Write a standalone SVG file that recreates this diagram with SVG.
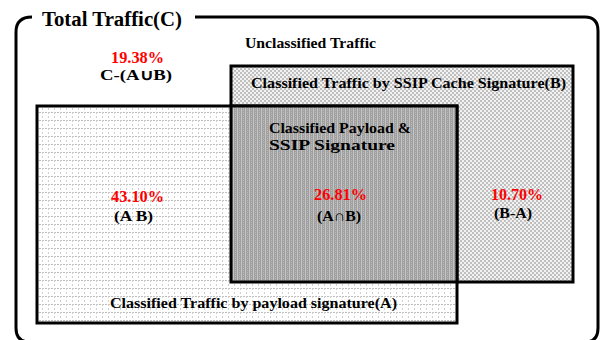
<svg xmlns="http://www.w3.org/2000/svg" width="601" height="340" viewBox="0 0 601 340">
  <defs>
    <style>
      text { font-family: "Liberation Serif", "Times New Roman", serif; font-weight: bold; fill: #000; }
      .title { font-size: 20px; }
      .lbl { font-size: 14px; }
      .sm { font-size: 15px; }
      .pct { font-size: 16px; fill: #ff0000; }
      .box { stroke: #000; stroke-width: 3; }
    </style>
    <!-- light checker for set B -->
    <pattern id="patB" width="4" height="4" patternUnits="userSpaceOnUse">
      <rect width="4" height="4" fill="#f2f2f2"/>
      <rect x="0" y="0" width="2" height="2" fill="#c0c0c0"/>
      <rect x="2" y="2" width="2" height="2" fill="#c0c0c0"/>
    </pattern>
    <!-- dashed grid for set A -->
    <pattern id="patA" width="6" height="8" patternUnits="userSpaceOnUse">
      <rect width="6" height="8" fill="#ffffff"/>
      <line x1="0" y1="0.5" x2="6" y2="0.5" stroke="#bdbdbd" stroke-width="1" stroke-dasharray="2 1"/>
      <line x1="0.5" y1="0" x2="0.5" y2="8" stroke="#cfcfcf" stroke-width="1" stroke-dasharray="2 2"/>
    </pattern>
    <!-- darker vertical stripes for the overlap -->
    <pattern id="patAB" width="4" height="2" patternUnits="userSpaceOnUse">
      <rect width="4" height="2" fill="#a0a0a0"/>
      <rect x="1" y="0" width="1" height="2" fill="#c4c4c4"/>
      <rect x="3" y="0" width="1" height="1" fill="#bbbbbb"/>
    </pattern>
  </defs>

  <rect width="601" height="340" fill="#ffffff"/>

  <!-- Total traffic C: rounded frame with a gap for its title -->
  <g id="setC">
    <path d="M 195 17 H 585 Q 598 17 598 31 V 328 Q 598 342 585 342 H 30 Q 16 342 16 328 V 32 Q 16 17 32 17" fill="none" stroke="#000" stroke-width="3"/>
    <text class="title" x="42" y="26" textLength="140" lengthAdjust="spacingAndGlyphs">Total Traffic(C)</text>
    <text class="lbl" x="245" y="48" textLength="131" lengthAdjust="spacingAndGlyphs">Unclassified Traffic</text>
    <text class="pct" x="111" y="63" textLength="53" lengthAdjust="spacingAndGlyphs">19.38%</text>
    <text class="sm" x="100" y="80" textLength="72" lengthAdjust="spacingAndGlyphs">C-(A∪B)</text>
  </g>

  <!-- Set B -->
  <g id="setB">
    <rect class="box" x="231" y="66" width="342" height="216" fill="url(#patB)"/>
    <text class="lbl" x="251" y="88" textLength="315" lengthAdjust="spacingAndGlyphs">Classified Traffic by SSIP Cache Signature(B)</text>
    <text class="pct" x="491" y="200" textLength="52" lengthAdjust="spacingAndGlyphs">10.70%</text>
    <text class="sm" x="494" y="218" textLength="38" lengthAdjust="spacingAndGlyphs">(B-A)</text>
  </g>

  <!-- Set A -->
  <g id="setA">
    <rect class="box" x="37" y="106" width="420" height="217" fill="url(#patA)"/>
    <text class="pct" x="111" y="202" textLength="53" lengthAdjust="spacingAndGlyphs">43.10%</text>
    <text class="sm" x="114" y="221" textLength="39" lengthAdjust="spacingAndGlyphs">(A B)</text>
    <text class="lbl" x="110" y="308" textLength="287" lengthAdjust="spacingAndGlyphs">Classified Traffic by payload signature(A)</text>
  </g>

  <!-- Overlap A∩B -->
  <g id="setAB">
    <rect x="231" y="106" width="226" height="176" fill="url(#patAB)"/>
    <path d="M 231 106 H 457 V 282 H 231 Z" fill="none" stroke="#000" stroke-width="3"/>
    <text class="lbl" x="269" y="133" textLength="142" lengthAdjust="spacingAndGlyphs">Classified Payload &amp;</text>
    <text class="lbl" x="269" y="150" textLength="126" lengthAdjust="spacingAndGlyphs">SSIP Signature</text>
    <text class="pct" x="314" y="200" textLength="53" lengthAdjust="spacingAndGlyphs">26.81%</text>
    <text class="sm" x="317" y="221" textLength="44" lengthAdjust="spacingAndGlyphs">(A∩B)</text>
  </g>

  <g id="connectors"/>
</svg>
